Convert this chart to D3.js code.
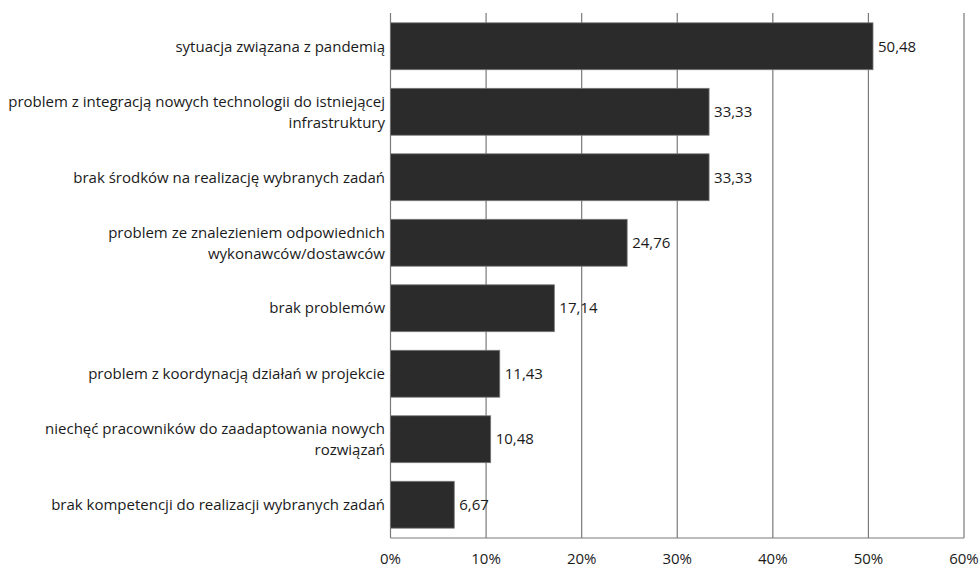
<!DOCTYPE html>
<html><head><meta charset="utf-8">
<script src="https://cdn.jsdelivr.net/npm/d3@7"></script>
<style>body{margin:0;background:#fff}svg{display:block}text{font-family:"Open Sans","Liberation Sans",sans-serif;fill:#1a1a1a}</style>
</head><body><svg id="c" width="980" height="568"></svg>
<script>
const categories = [
 ["sytuacja związana z pandemią"],
 ["problem z integracją nowych technologii do istniejącej","infrastruktury"],
 ["brak środków na realizację wybranych zadań"],
 ["problem ze znalezieniem odpowiednich","wykonawców/dostawców"],
 ["brak problemów"],
 ["problem z koordynacją działań w projekcie"],
 ["niechęć pracowników do zaadaptowania nowych","rozwiązań"],
 ["brak kompetencji do realizacji wybranych zadań"]
];
const values = [50.48, 33.33, 33.33, 24.76, 17.14, 11.43, 10.48, 6.67];
const ticks = [0,10,20,30,40,50,60];
const tickLabels = ["0%","10%","20%","30%","40%","50%","60%"];

const svg = d3.select("#c");
const plotTop = 13, plotBottom = 538;
const x = d3.scaleLinear().domain([0,60]).range([390.5,964]);
const y = d3.scaleBand().domain(d3.range(values.length)).range([plotTop,plotBottom]).paddingInner(0.284).paddingOuter(0.15);

svg.append("g").selectAll("line").data(ticks).join("line")
 .attr("x1",d=>x(d)).attr("x2",d=>x(d)).attr("y1",plotTop).attr("y2",plotBottom)
 .attr("stroke","#7a7a7a").attr("stroke-width",1.2);
svg.append("line").attr("x1",x(0)).attr("x2",x(60)).attr("y1",plotBottom).attr("y2",plotBottom).attr("stroke","#7a7a7a").attr("stroke-width",1.2);

svg.append("g").selectAll("rect").data(values).join("rect")
 .attr("x",x(0)).attr("y",(d,i)=>y(i)).attr("width",d=>x(d)-x(0)).attr("height",y.bandwidth())
 .attr("fill","#2b2b2b").attr("stroke","#777").attr("stroke-width",0.8);

svg.append("g").selectAll("text").data(values).join("text")
 .attr("x",d=>x(d)+5).attr("y",(d,i)=>y(i)+y.bandwidth()/2).attr("dy","0.35em")
 .attr("font-size",15).text(d=>d.toFixed(2).replace(".",","));

const lab = svg.append("g").selectAll("text").data(categories).join("text")
 .attr("text-anchor","end").attr("font-size",15)
 .attr("transform",(d,i)=>`translate(385,${y(i)+y.bandwidth()/2})`);
lab.each(function(lines){
  const t=d3.select(this);
  const n=lines.length;
  lines.forEach((l,k)=>t.append("tspan").attr("x",0).attr("y",(k-(n-1)/2)*21).attr("dy","0.35em").text(l));
});

svg.append("g").selectAll("text").data(ticks).join("text")
 .attr("x",d=>x(d)).attr("y",559).attr("dy","0.35em").attr("text-anchor","middle")
 .attr("font-size",15).text((d,i)=>tickLabels[i]);
</script></body></html>
